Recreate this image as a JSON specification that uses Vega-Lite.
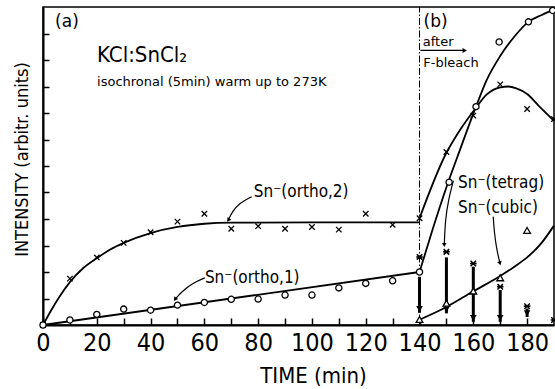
{
  "$schema": "https://vega.github.io/schema/vega-lite/v6.json",
  "width": 511,
  "height": 318,
  "autosize": {"type": "none"},
  "padding": {"left": 43, "top": 7, "right": 1, "bottom": 64},
  "background": "white",
  "config": {"view": {"stroke": "black", "strokeWidth": 1.5}, "font": "'DejaVu Sans Condensed', Roboto, sans-serif"},
  "datasets": {
    "points": [
      {"series": "ortho2", "t": 0, "y": 0}, {"series": "ortho2", "t": 10, "y": 1.75}, {"series": "ortho2", "t": 20, "y": 2.55},
      {"series": "ortho2", "t": 30, "y": 3.1}, {"series": "ortho2", "t": 40, "y": 3.5}, {"series": "ortho2", "t": 50, "y": 3.9},
      {"series": "ortho2", "t": 60, "y": 4.2}, {"series": "ortho2", "t": 70, "y": 3.63}, {"series": "ortho2", "t": 80, "y": 3.73},
      {"series": "ortho2", "t": 90, "y": 3.63}, {"series": "ortho2", "t": 100, "y": 3.7}, {"series": "ortho2", "t": 110, "y": 3.6},
      {"series": "ortho2", "t": 120, "y": 4.2}, {"series": "ortho2", "t": 130, "y": 3.78}, {"series": "ortho2", "t": 140, "y": 4.03},
      {"series": "ortho2", "t": 150, "y": 6.53}, {"series": "ortho2", "t": 160, "y": 7.9}, {"series": "ortho2", "t": 170, "y": 9.08},
      {"series": "ortho2", "t": 180, "y": 8.15}, {"series": "ortho2", "t": 190, "y": 7.77},
      {"series": "ortho1", "t": 0, "y": 0}, {"series": "ortho1", "t": 10, "y": 0.19}, {"series": "ortho1", "t": 20, "y": 0.4},
      {"series": "ortho1", "t": 30, "y": 0.6}, {"series": "ortho1", "t": 40, "y": 0.56}, {"series": "ortho1", "t": 50, "y": 0.75},
      {"series": "ortho1", "t": 60, "y": 0.85}, {"series": "ortho1", "t": 70, "y": 0.97}, {"series": "ortho1", "t": 80, "y": 0.98},
      {"series": "ortho1", "t": 90, "y": 1.13}, {"series": "ortho1", "t": 100, "y": 1.13}, {"series": "ortho1", "t": 110, "y": 1.4},
      {"series": "ortho1", "t": 120, "y": 1.57}, {"series": "ortho1", "t": 130, "y": 1.67}, {"series": "ortho1", "t": 140, "y": 2.0},
      {"series": "ortho1", "t": 151, "y": 5.39}, {"series": "ortho1", "t": 161, "y": 8.24}, {"series": "ortho1", "t": 169.6, "y": 10.68},
      {"series": "ortho1", "t": 180.5, "y": 11.44}, {"series": "ortho1", "t": 189.5, "y": 11.87},
      {"series": "cubic", "t": 140, "y": 0.21}, {"series": "cubic", "t": 150, "y": 0.82}, {"series": "cubic", "t": 160, "y": 1.28},
      {"series": "cubic", "t": 170, "y": 1.78}, {"series": "cubic", "t": 180, "y": 3.57},
      {"series": "star", "t": 140, "y": 2.57}, {"series": "star", "t": 150, "y": 2.76}, {"series": "star", "t": 160, "y": 2.32},
      {"series": "star", "t": 170, "y": 1.44}, {"series": "star", "t": 180, "y": 0.71}, {"series": "star", "t": 190, "y": 0.19}
    ],
    "curves": [
      {"curve": "o2a", "t": 0, "y": 0}, {"curve": "o2a", "t": 3, "y": 0.55}, {"curve": "o2a", "t": 6, "y": 1.05},
      {"curve": "o2a", "t": 10, "y": 1.62}, {"curve": "o2a", "t": 15, "y": 2.15}, {"curve": "o2a", "t": 20, "y": 2.52},
      {"curve": "o2a", "t": 25, "y": 2.85}, {"curve": "o2a", "t": 30, "y": 3.1}, {"curve": "o2a", "t": 40, "y": 3.47},
      {"curve": "o2a", "t": 50, "y": 3.7}, {"curve": "o2a", "t": 60, "y": 3.82}, {"curve": "o2a", "t": 70, "y": 3.86},
      {"curve": "o2a", "t": 100, "y": 3.87}, {"curve": "o2a", "t": 140, "y": 3.87},
      {"curve": "o1a", "t": 0, "y": 0}, {"curve": "o1a", "t": 140, "y": 2.0},
      {"curve": "o2b", "t": 140, "y": 4.03}, {"curve": "o2b", "t": 150, "y": 6.5}, {"curve": "o2b", "t": 155, "y": 7.35},
      {"curve": "o2b", "t": 161, "y": 8.2}, {"curve": "o2b", "t": 165, "y": 8.7}, {"curve": "o2b", "t": 170, "y": 8.97},
      {"curve": "o2b", "t": 173, "y": 9.0}, {"curve": "o2b", "t": 176, "y": 8.93}, {"curve": "o2b", "t": 180, "y": 8.72},
      {"curve": "o2b", "t": 185, "y": 8.2}, {"curve": "o2b", "t": 190, "y": 7.7},
      {"curve": "o1b", "t": 140, "y": 2.0}, {"curve": "o1b", "t": 145, "y": 3.65}, {"curve": "o1b", "t": 150, "y": 5.2},
      {"curve": "o1b", "t": 155, "y": 6.6}, {"curve": "o1b", "t": 161, "y": 8.24}, {"curve": "o1b", "t": 165, "y": 9.25},
      {"curve": "o1b", "t": 170, "y": 10.15}, {"curve": "o1b", "t": 175, "y": 10.85}, {"curve": "o1b", "t": 180.5, "y": 11.44},
      {"curve": "o1b", "t": 185, "y": 11.68}, {"curve": "o1b", "t": 190, "y": 11.9},
      {"curve": "cub", "t": 140, "y": 0.2}, {"curve": "cub", "t": 150, "y": 0.68}, {"curve": "cub", "t": 160, "y": 1.27},
      {"curve": "cub", "t": 170, "y": 1.85}, {"curve": "cub", "t": 175, "y": 2.18}, {"curve": "cub", "t": 180, "y": 2.55},
      {"curve": "cub", "t": 185, "y": 3.05}, {"curve": "cub", "t": 190, "y": 3.75}
    ],
    "arrows": [
      {"t": 140, "y": 1.82, "y2": 0.46}, {"t": 150, "y": 2.55, "y2": 0.44}, {"t": 160, "y": 2.2, "y2": 0.12},
      {"t": 170, "y": 1.32, "y2": 0.12}, {"t": 180, "y": 0.62, "y2": 0.3}
    ],
    "connectors": [
      {"c": "o2", "k": 0, "t": 77.6, "y": 4.84}, {"c": "o2", "k": 1, "t": 73, "y": 4.6}, {"c": "o2", "k": 2, "t": 70.2, "y": 4.25}, {"c": "o2", "k": 3, "t": 68.9, "y": 3.96},
      {"c": "o1", "k": 0, "t": 60.2, "y": 1.78}, {"c": "o1", "k": 1, "t": 56, "y": 1.6}, {"c": "o1", "k": 2, "t": 51.5, "y": 1.25}, {"c": "o1", "k": 3, "t": 49.1, "y": 0.97},
      {"c": "te", "k": 0, "t": 152.6, "y": 5.45}, {"c": "te", "k": 1, "t": 150.8, "y": 4.75}, {"c": "te", "k": 2, "t": 149.6, "y": 4.0}, {"c": "te", "k": 3, "t": 149.2, "y": 3.02},
      {"c": "cu", "k": 0, "t": 167.4, "y": 4.09}, {"c": "cu", "k": 1, "t": 167.8, "y": 3.5}, {"c": "cu", "k": 2, "t": 168.6, "y": 2.9}, {"c": "cu", "k": 3, "t": 169.9, "y": 2.33}
    ],
    "heads": [
      {"c": "o2", "t": 68.9, "y": 3.96}, {"c": "o1", "t": 49.1, "y": 0.97}, {"c": "te", "t": 149.2, "y": 3.02}, {"c": "cu", "t": 169.9, "y": 2.33}
    ],
    "divider": [{"t": 140, "y": 0, "y2": 12}],
    "bleach": [{"t": 140.3, "t2": 156.5, "y": 10.36}],
    "bleachHead": [{"t": 156.8, "y": 10.36}],
    "labelsSn": [
      {"t": 78.4, "y": 4.83, "text": "Sn⁻(ortho,2)"}, {"t": 60.2, "y": 1.58, "text": "Sn⁻(ortho,1)"},
      {"t": 154.3, "y": 5.17, "text": "Sn⁻(tetrag)"}, {"t": 154.3, "y": 4.23, "text": "Sn⁻(cubic)"}
    ],
    "labelsBig": [{"t": 20.1, "y": 9.92, "text": "KCl:SnCl₂"}],
    "labelsSmall": [
      {"t": 20.1, "y": 9.02, "text": "isochronal (5min) warm up to 273K"},
      {"t": 141.2, "y": 10.53, "text": "after"}, {"t": 141.4, "y": 9.74, "text": "F-bleach"}
    ],
    "labelsPanel": [{"t": 4.5, "y": 11.45, "text": "(a)"}, {"t": 141.5, "y": 11.45, "text": "(b)"}]
  },
  "encoding": {
    "x": {
      "field": "t", "type": "quantitative",
      "scale": {"domain": [0, 190], "nice": false, "zero": false},
      "axis": {
        "title": "TIME (min)", "values": [0, 10, 20, 30, 40, 50, 60, 70, 80, 90, 100, 110, 120, 130, 140, 150, 160, 170, 180],
        "labelExpr": "datum.value % 20 === 0 ? datum.label : ''",
        "grid": false, "tickSize": -7, "tickWidth": 1.5, "tickColor": "black",
        "domainColor": "black", "domainWidth": 2,
        "labelFont": "'DejaVu Sans Condensed', Roboto, sans-serif", "labelFontSize": 25, "labelColor": "black", "labelPadding": 12,
        "labelFlush": false, "labelOverlap": false,
        "titleFont": "'DejaVu Sans Condensed', Roboto, sans-serif", "titleFontSize": 22, "titleFontWeight": "normal", "titleColor": "black",
        "titleX": 270, "titleY": 50, "titleBaseline": "middle", "titleAlign": "center"
      }
    },
    "y": {
      "field": "y", "type": "quantitative",
      "scale": {"domain": [0, 12], "nice": false},
      "axis": {
        "title": "INTENSITY (arbitr. units)", "values": [1, 2, 3, 4, 5, 6, 7, 8, 9, 10, 11],
        "labels": false, "grid": false, "tickSize": -6, "tickWidth": 1.5, "tickColor": "black",
        "domainColor": "black", "domainWidth": 2,
        "titleFont": "'DejaVu Sans Condensed', Roboto, sans-serif", "titleFontSize": 18, "titleFontWeight": "normal", "titleColor": "black",
        "titleAngle": 270, "titleX": -21, "titleY": 152, "titleAlign": "center", "titleBaseline": "middle"
      }
    }
  },
  "layer": [
    {
      "data": {"name": "curves"},
      "mark": {"type": "line", "color": "black", "strokeWidth": 1.8, "interpolate": "monotone"},
      "encoding": {"detail": {"field": "curve"}}
    },
    {
      "data": {"name": "divider"},
      "mark": {"type": "rule", "color": "black", "strokeWidth": 1, "strokeDash": [7, 2, 1.5, 2]},
      "encoding": {"y2": {"field": "y2"}}
    },
    {
      "data": {"name": "arrows"},
      "mark": {"type": "rule", "color": "black", "strokeWidth": 3},
      "encoding": {"y2": {"field": "y2"}}
    },
    {
      "data": {"name": "arrows"},
      "mark": {"type": "point", "shape": "triangle-down", "filled": true, "color": "black", "size": 45, "yOffset": -4, "opacity": 1},
      "encoding": {"y": {"field": "y2", "type": "quantitative"}}
    },
    {
      "data": {"name": "connectors"},
      "mark": {"type": "line", "color": "black", "strokeWidth": 1.2, "interpolate": "basis"},
      "encoding": {"detail": {"field": "c"}, "order": {"field": "k"}}
    },
    {
      "data": {"name": "heads"},
      "transform": [{"filter": "datum.c === 'o2' || datum.c === 'o1'"}],
      "mark": {"type": "point", "shape": "triangle-down", "filled": true, "color": "black", "size": 22, "angle": 35, "opacity": 1}
    },
    {
      "data": {"name": "heads"},
      "transform": [{"filter": "datum.c === 'te'"}],
      "mark": {"type": "point", "shape": "triangle-down", "filled": true, "color": "black", "size": 22, "angle": 0, "opacity": 1}
    },
    {
      "data": {"name": "heads"},
      "transform": [{"filter": "datum.c === 'cu'"}],
      "mark": {"type": "point", "shape": "triangle-down", "filled": true, "color": "black", "size": 22, "angle": -15, "opacity": 1}
    },
    {
      "data": {"name": "bleach"},
      "mark": {"type": "rule", "color": "black", "strokeWidth": 1.2},
      "encoding": {"x2": {"field": "t2"}}
    },
    {
      "data": {"name": "bleachHead"},
      "mark": {"type": "point", "shape": "triangle-right", "filled": true, "color": "black", "size": 25, "opacity": 1}
    },
    {
      "data": {"name": "points"},
      "transform": [{"filter": "datum.series === 'ortho2'"}],
      "mark": {"type": "point", "shape": "M-1,-1L1,1M-1,1L1,-1", "filled": false, "color": "black", "strokeWidth": 1.3, "size": 30, "opacity": 1}
    },
    {
      "data": {"name": "points"},
      "transform": [{"filter": "datum.series === 'star'"}],
      "mark": {"type": "point", "shape": "M-1,-1L1,1M-1,1L1,-1M-1.2,0L1.2,0", "filled": false, "color": "black", "strokeWidth": 1.5, "size": 30, "opacity": 1}
    },
    {
      "data": {"name": "points"},
      "transform": [{"filter": "datum.series === 'ortho1'"}],
      "mark": {"type": "point", "shape": "circle", "filled": false, "fill": "white", "fillOpacity": 1, "stroke": "black", "strokeWidth": 1.3, "size": 38, "opacity": 1}
    },
    {
      "data": {"name": "points"},
      "transform": [{"filter": "datum.series === 'cubic'"}],
      "mark": {"type": "point", "shape": "triangle-up", "filled": false, "fill": "white", "fillOpacity": 1, "stroke": "black", "strokeWidth": 1.3, "size": 45, "opacity": 1}
    },
    {
      "data": {"name": "labelsSn"},
      "mark": {"type": "text", "align": "left", "baseline": "alphabetic", "font": "'DejaVu Sans Condensed', Roboto, sans-serif", "fontSize": 17, "color": "black"},
      "encoding": {"text": {"field": "text"}}
    },
    {
      "data": {"name": "labelsBig"},
      "mark": {"type": "text", "align": "left", "baseline": "alphabetic", "font": "'DejaVu Sans Condensed', Roboto, sans-serif", "fontSize": 22, "color": "black"},
      "encoding": {"text": {"field": "text"}}
    },
    {
      "data": {"name": "labelsSmall"},
      "mark": {"type": "text", "align": "left", "baseline": "alphabetic", "font": "DejaVu Sans", "fontSize": 13, "color": "black"},
      "encoding": {"text": {"field": "text"}}
    },
    {
      "data": {"name": "labelsPanel"},
      "mark": {"type": "text", "align": "left", "baseline": "middle", "font": "DejaVu Sans", "fontSize": 17, "color": "black"},
      "encoding": {"text": {"field": "text"}}
    }
  ]
}
